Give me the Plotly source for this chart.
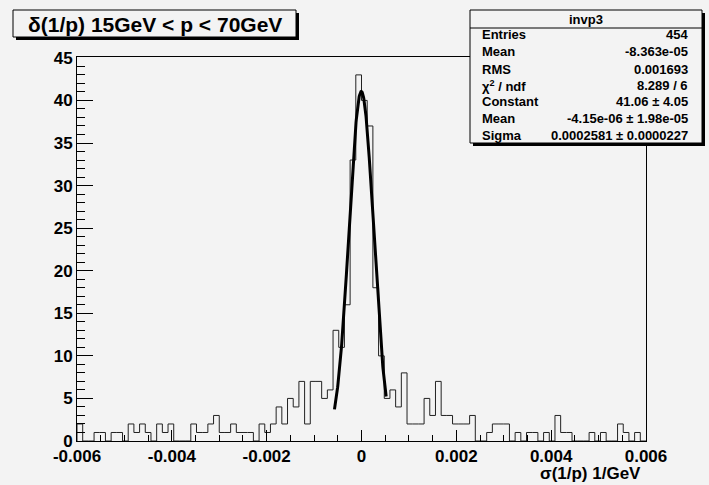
import numpy as np
import plotly.graph_objects as go

# ---------------- data ----------------
bin_low = -0.006
bin_high = 0.006
counts = [2, 0, 0, 1, 1, 0, 1, 1, 0, 2,
          1, 2, 1, 0, 2, 1, 2, 0, 0, 0,
          2, 1, 1, 2, 3, 1, 1, 2, 1, 1,
          1, 0, 2, 1, 2, 4, 2, 5, 4, 7,
          2, 7, 7, 5, 6, 13, 11, 16, 33, 43,
          40, 37, 18, 10, 5, 6, 4, 8, 2, 2,
          2, 5, 3, 7, 3, 3, 2, 2, 2, 3,
          0, 0, 1, 2, 2, 2, 0, 1, 0, 1,
          1, 0, 1, 0, 3, 1, 1, 0, 0, 0,
          1, 0, 1, 0, 0, 2, 1, 0, 1, 0]

fit_constant = 41.06
fit_mean = -4.15e-06
fit_sigma = 0.0002581
fit_low = -0.00057
fit_high = 0.00052

x_tick_vals = [-0.006, -0.004, -0.002, 0.0, 0.002, 0.004, 0.006]
x_tick_text = ["-0.006", "-0.004", "-0.002", "0", "0.002", "0.004", "0.006"]
y_tick_vals = [0, 5, 10, 15, 20, 25, 30, 35, 40, 45]
y_tick_text = ["0", "5", "10", "15", "20", "25", "30", "35", "40", "45"]

title_text = "δ(1/p) 15GeV < p < 70GeV"
x_title_text = "σ(1/p) 1/GeV"
stats_name = "invp3"
stats_labels = ["Entries", "Mean", "RMS", "χ<sup>2</sup> / ndf", "Constant", "Mean", "Sigma"]
stats_values = ["454", "-8.363e-05", "0.001693", "8.289 / 6", "41.06 ± 4.05",
                "-4.15e-06 ± 1.98e-05", "0.0002581 ± 0.0000227"]

# ---------------- geometry helpers ----------------
W, H = 709, 485
PL, PR, PT, PB = 77, 646, 57, 441
BG = "#f3f3f3"
FONT = "Liberation Sans, Arial, Helvetica, sans-serif"


def fx(px):
    return (px - PL) / (PR - PL)


def fy(py):
    return (PB - py) / (PB - PT)


n_bins = len(counts)
edges = np.linspace(bin_low, bin_high, n_bins + 1)
step_x = [edges[0]] + list(edges)
step_y = [0] + list(counts) + [0]

fit_x = np.linspace(fit_low, fit_high, 200)
fit_y = fit_constant * np.exp(-0.5 * ((fit_x - fit_mean) / fit_sigma) ** 2)

fig = go.Figure()
fig.add_trace(go.Scatter(x=step_x, y=step_y, mode="lines", line_shape="hv",
                         line=dict(color="#222222", width=1), hoverinfo="skip"))
fig.add_trace(go.Scatter(x=fit_x, y=fit_y, mode="lines",
                         line=dict(color="black", width=3), hoverinfo="skip"))

shapes = []
annotations = []

# title box with shadow
shapes.append(dict(type="rect", xref="paper", yref="paper",
                   x0=fx(16), x1=fx(299), y0=fy(40), y1=fy(13),
                   fillcolor="black", line=dict(width=0), layer="above"))
shapes.append(dict(type="rect", xref="paper", yref="paper",
                   x0=fx(13), x1=fx(296), y0=fy(37), y1=fy(10),
                   fillcolor=BG, line=dict(color="black", width=1), layer="above"))
annotations.append(dict(xref="paper", yref="paper", x=fx(26), y=fy(24.5),
                        xanchor="left", yanchor="middle", showarrow=False,
                        text=title_text,
                        font=dict(family=FONT, size=21, color="black", weight="bold")))

# stats box with shadow
shapes.append(dict(type="rect", xref="paper", yref="paper",
                   x0=fx(473), x1=fx(705), y0=fy(146), y1=fy(13),
                   fillcolor="black", line=dict(width=0), layer="above"))
shapes.append(dict(type="rect", xref="paper", yref="paper",
                   x0=fx(470), x1=fx(702), y0=fy(143), y1=fy(10),
                   fillcolor=BG, line=dict(color="black", width=1), layer="above"))
shapes.append(dict(type="line", xref="paper", yref="paper",
                   x0=fx(470), x1=fx(702), y0=fy(28), y1=fy(28),
                   line=dict(color="black", width=1), layer="above"))
annotations.append(dict(xref="paper", yref="paper", x=fx(586), y=fy(19.5),
                        xanchor="center", yanchor="middle", showarrow=False,
                        text=stats_name,
                        font=dict(family=FONT, size=13, color="black", weight="bold")))
row_y = [34.3, 51.7, 69.5, 85.5, 101.5, 118.5, 135.5]
for lab, val, ry in zip(stats_labels, stats_values, row_y):
    annotations.append(dict(xref="paper", yref="paper", x=fx(480), y=fy(ry),
                            xanchor="left", yanchor="middle", showarrow=False,
                            text=lab,
                            font=dict(family=FONT, size=13, color="black", weight="bold")))
    annotations.append(dict(xref="paper", yref="paper", x=fx(690), y=fy(ry),
                            xanchor="right", yanchor="middle", showarrow=False,
                            text=val,
                            font=dict(family=FONT, size=13, color="black", weight="bold")))

# x-axis title
annotations.append(dict(xref="paper", yref="paper", x=fx(643), y=fy(473),
                        xanchor="right", yanchor="middle", showarrow=False,
                        text=x_title_text,
                        font=dict(family=FONT, size=17, color="black", weight="bold")))

fig.update_layout(
    width=W, height=H, autosize=False,
    margin=dict(l=PL, r=W - PR, t=PT, b=H - PB, pad=0),
    paper_bgcolor=BG, plot_bgcolor=BG,
    showlegend=False,
    shapes=shapes, annotations=annotations,
    font=dict(family=FONT, color="black"),
)
fig.update_xaxes(range=[bin_low, bin_high], tickvals=x_tick_vals, ticktext=x_tick_text,
                 ticks="inside", ticklen=11, tickwidth=1, tickcolor="black",
                 minor=dict(dtick=0.0005, tick0=bin_low, ticks="inside", ticklen=6,
                            tickcolor="black", tickwidth=1, showgrid=False),
                 showline=True, linecolor="black", linewidth=1, mirror=True,
                 showgrid=False, zeroline=False,
                 tickfont=dict(family=FONT, size=17, color="black", weight="bold"))
fig.update_yaxes(range=[0, 45.1], tickvals=y_tick_vals, ticktext=y_tick_text,
                 ticks="inside", ticklen=16, tickwidth=1, tickcolor="black",
                 minor=dict(dtick=1, tick0=0, ticks="inside", ticklen=8,
                            tickcolor="black", tickwidth=1, showgrid=False),
                 showline=True, linecolor="black", linewidth=1, mirror=True,
                 showgrid=False, zeroline=False,
                 tickfont=dict(family=FONT, size=17, color="black", weight="bold"))

fig.write_html("out.html")
